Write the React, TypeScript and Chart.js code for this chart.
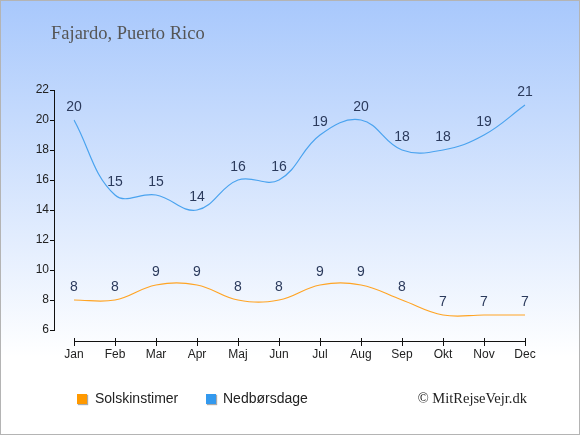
import React, { useEffect, useRef } from 'react';
import { Chart, registerables, Plugin } from 'chart.js';

Chart.register(...registerables);

const months = ['Jan', 'Feb', 'Mar', 'Apr', 'Maj', 'Jun', 'Jul', 'Aug', 'Sep', 'Okt', 'Nov', 'Dec'];
const sunHours = [8, 8, 9, 9, 8, 8, 9, 9, 8, 7, 7, 7];
const rainDays = [20, 15, 15, 14, 16, 16, 19, 20, 18, 18, 19, 21];

const SANS = '"Liberation Sans", Arial, sans-serif';
const SERIF = '"Liberation Serif", "Times New Roman", serif';

// axis lines drawn detached from each other, plus the value labels above the points
const axesAndLabels: Plugin<'line'> = {
  id: 'axesAndLabels',
  afterDraw(chart) {
    const { ctx, chartArea, scales } = chart;
    const x = scales.x;
    const y = scales.y;
    ctx.save();
    ctx.fillStyle = '#111';

    // y axis
    const ax = Math.round(chartArea.left - 20);
    const yTop = Math.round(y.getPixelForValue(y.max));
    const yBot = Math.round(y.getPixelForValue(y.min));
    ctx.fillRect(ax, yTop, 1, yBot - yTop + 1);
    y.ticks.forEach((t) => {
      const py = Math.round(y.getPixelForValue(t.value));
      ctx.fillRect(ax - 4, py, 4, 1);
    });

    // x axis
    const ay = Math.round(chartArea.bottom + 11);
    const xL = Math.round(x.getPixelForValue(0));
    const xR = Math.round(x.getPixelForValue(months.length - 1));
    ctx.fillRect(xL, ay, xR - xL + 1, 1);
    months.forEach((_, i) => {
      const px = Math.round(x.getPixelForValue(i));
      ctx.fillRect(px, ay - 3, 1, 8);
    });

    // value labels
    ctx.fillStyle = '#2b3a5c';
    ctx.font = `14px ${SANS}`;
    ctx.textAlign = 'center';
    ctx.textBaseline = 'middle';
    chart.data.datasets.forEach((ds, di) => {
      const meta = chart.getDatasetMeta(di);
      meta.data.forEach((pt, i) => {
        ctx.fillText(String(ds.data[i]), pt.x, pt.y - 13);
      });
    });
    ctx.restore();
  },
};

const App: React.FC = () => {
  const canvasRef = useRef<HTMLCanvasElement | null>(null);
  const chartRef = useRef<Chart | null>(null);

  useEffect(() => {
    if (chartRef.current) {
      chartRef.current.destroy();
      chartRef.current = null;
    }
    const ctx = canvasRef.current?.getContext('2d');
    if (!ctx) return;

    chartRef.current = new Chart(ctx, {
      type: 'line',
      data: {
        labels: months,
        datasets: [
          {
            label: 'Solskinstimer',
            data: sunHours,
            borderColor: '#ffa424',
            borderWidth: 1.2,
            pointRadius: 0,
            tension: 0.4,
            fill: false,
          },
          {
            label: 'Nedbørsdage',
            data: rainDays,
            borderColor: '#4aa3ef',
            borderWidth: 1.2,
            pointRadius: 0,
            tension: 0.4,
            fill: false,
          },
        ],
      },
      options: {
        animation: false,
        responsive: false,
        layout: { padding: { top: 90, right: 55, left: 0, bottom: 0 } },
        plugins: {
          legend: { display: false },
          title: { display: false },
          tooltip: { enabled: false },
        },
        scales: {
          x: {
            offset: false,
            grid: { display: false },
            border: { display: false },
            ticks: { padding: 9, color: '#222', font: { size: 12, family: SANS } },
            afterFit: (s) => {
              s.height = 105;
            },
          },
          y: {
            min: 6,
            max: 22,
            grid: { display: false },
            border: { display: false },
            ticks: { stepSize: 2, padding: 17, color: '#222', font: { size: 12, family: SANS } },
            afterFit: (s) => {
              s.width = 74;
            },
          },
        },
      },
      plugins: [axesAndLabels],
    });

    return () => {
      if (chartRef.current) {
        chartRef.current.destroy();
        chartRef.current = null;
      }
    };
  }, []);

  const box = (color: string): React.CSSProperties => ({
    position: 'absolute',
    width: 10,
    height: 10,
    background: color,
    boxShadow: '1px 1px 1px #aaa',
  });

  return (
    <div
      style={{
        position: 'absolute',
        left: 0,
        top: 0,
        width: 580,
        height: 435,
        background: 'linear-gradient(180deg, #a8c8fc 0%, #ffffff 82%)',
        fontFamily: SANS,
      }}
    >
      <canvas ref={canvasRef} width={580} height={435} style={{ position: 'absolute', left: 0, top: 0 }} />
      <div style={{ position: 'absolute', left: 51, top: 23, fontFamily: SERIF, fontSize: 18.5, color: '#555' }}>
        Fajardo, Puerto Rico
      </div>
      <div style={{ ...box('#ff9900'), left: 77, top: 394 }} />
      <div style={{ position: 'absolute', left: 95, top: 390, fontSize: 14, color: '#222' }}>Solskinstimer</div>
      <div style={{ ...box('#3399ee'), left: 206, top: 394 }} />
      <div style={{ position: 'absolute', left: 223, top: 390, fontSize: 14, color: '#222' }}>Nedbørsdage</div>
      <div style={{ position: 'absolute', right: 53, top: 390, fontFamily: SERIF, fontSize: 14.5, color: '#222' }}>
        © MitRejseVejr.dk
      </div>
      <div
        style={{
          position: 'absolute',
          left: 0,
          top: 0,
          width: 580,
          height: 435,
          boxSizing: 'border-box',
          border: '1px solid #b4b4b4',
          pointerEvents: 'none',
        }}
      />
    </div>
  );
};

export default App;
